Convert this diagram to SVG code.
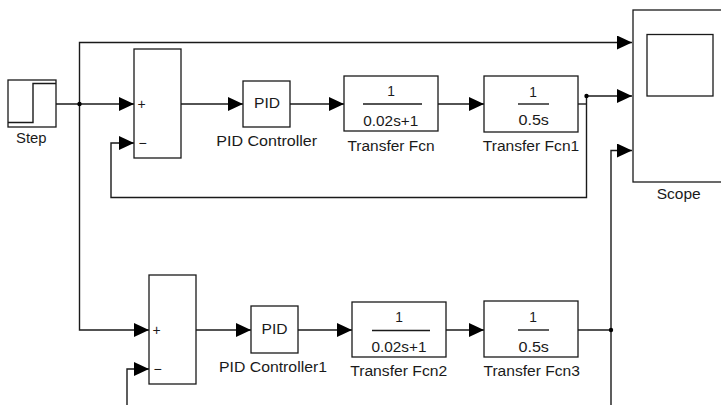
<svg xmlns="http://www.w3.org/2000/svg" width="721" height="405" viewBox="0 0 721 405">
<style>
.box{fill:#fff;stroke:#1a1a1a;stroke-width:1.3}
.ln{fill:none;stroke:#1a1a1a;stroke-width:1.4}
.t{font-family:"Liberation Sans",Arial,sans-serif;font-size:13.8px;fill:#1a1a1a;text-anchor:middle}
.s{font-family:"Liberation Sans",Arial,sans-serif;font-size:14px;fill:#1a1a1a}
</style>
<defs>
<marker id="ah" markerUnits="userSpaceOnUse" markerWidth="15" markerHeight="14" refX="15" refY="7" orient="auto">
<path d="M0,0 L15,7 L0,14 z" fill="#000"/>
</marker>
</defs>
<rect width="721" height="405" fill="#fff"/>
<g id="connectors">
<path class="ln" d="M56,104 H134" marker-end="url(#ah)"/>
<path class="ln" d="M79.5,104 V42.5 H632" marker-end="url(#ah)"/>
<path class="ln" d="M79.5,104 V330 H149" marker-end="url(#ah)"/>
<path class="ln" d="M181,104 H243" marker-end="url(#ah)"/>
<path class="ln" d="M290,104 H344" marker-end="url(#ah)"/>
<path class="ln" d="M438,104 H484" marker-end="url(#ah)"/>
<path class="ln" d="M578,104 H587"/>
<path class="ln" d="M586.5,96 V197.5 H111 V143 H134" marker-end="url(#ah)"/>
<path class="ln" d="M586.5,96 H632" marker-end="url(#ah)"/>
<path class="ln" d="M196,330 H251" marker-end="url(#ah)"/>
<path class="ln" d="M298,330 H352" marker-end="url(#ah)"/>
<path class="ln" d="M446,330 H484" marker-end="url(#ah)"/>
<path class="ln" d="M578,330 H611"/>
<path class="ln" d="M611,405 V150.5 H632" marker-end="url(#ah)"/>
<path class="ln" d="M127,405 V369 H149" marker-end="url(#ah)"/>
<circle cx="79.5" cy="104" r="2.2" fill="#000"/>
<circle cx="586.5" cy="96" r="2.2" fill="#000"/>
<circle cx="611" cy="330" r="2.2" fill="#000"/>
</g>
<g id="step">
<rect class="box" x="8" y="80" width="48" height="47"/>
<polyline class="ln" points="8,122.5 33,122.5 33,83.5 56,83.5"/>
<text class="t" x="31.3" y="143.3" textLength="30.5" lengthAdjust="spacingAndGlyphs">Step</text>
</g>
<g id="sum1">
<rect class="box" x="134" y="49" width="47" height="109"/>
<text class="s" x="137.5" y="109">+</text>
<text class="s" x="138.5" y="148">−</text>
</g>
<g id="pid1">
<rect class="box" x="243" y="81" width="47" height="46"/>
<text class="t" x="267" y="107.5" textLength="26" lengthAdjust="spacingAndGlyphs">PID</text>
<text class="t" x="266.7" y="146" textLength="101" lengthAdjust="spacingAndGlyphs">PID Controller</text>
</g>
<g id="tf">
<rect class="box" x="344" y="76" width="94" height="55"/>
<text class="t" x="391" y="96">1</text>
<line class="ln" x1="363" y1="104" x2="422" y2="104"/>
<text class="t" x="390.8" y="126" textLength="55" lengthAdjust="spacingAndGlyphs">0.02s+1</text>
<text class="t" x="391" y="150.5" textLength="87" lengthAdjust="spacingAndGlyphs">Transfer Fcn</text>
</g>
<g id="tf1">
<rect class="box" x="484" y="76" width="94" height="56"/>
<text class="t" x="533" y="96.5">1</text>
<line class="ln" x1="518" y1="104" x2="549" y2="104"/>
<text class="t" x="533.7" y="125" textLength="30.5" lengthAdjust="spacingAndGlyphs">0.5s</text>
<text class="t" x="531" y="150.5" textLength="96.5" lengthAdjust="spacingAndGlyphs">Transfer Fcn1</text>
</g>
<g id="scope">
<rect class="box" x="633" y="10" width="100" height="172"/>
<rect class="box" x="647" y="34.5" width="66" height="61.5"/>
<text class="t" x="678.7" y="199.3" textLength="44" lengthAdjust="spacingAndGlyphs">Scope</text>
</g>
<g id="sum2">
<rect class="box" x="149" y="275" width="47" height="109"/>
<text class="s" x="152.5" y="335">+</text>
<text class="s" x="153.5" y="374">−</text>
</g>
<g id="pid2">
<rect class="box" x="251" y="306" width="47" height="47"/>
<text class="t" x="274.5" y="334" textLength="26" lengthAdjust="spacingAndGlyphs">PID</text>
<text class="t" x="273" y="371.5" textLength="108" lengthAdjust="spacingAndGlyphs">PID Controller1</text>
</g>
<g id="tf2">
<rect class="box" x="352" y="302" width="94" height="55"/>
<text class="t" x="399" y="322.3">1</text>
<line class="ln" x1="372" y1="330.5" x2="430" y2="330.5"/>
<text class="t" x="399" y="352" textLength="55" lengthAdjust="spacingAndGlyphs">0.02s+1</text>
<text class="t" x="398.7" y="375.5" textLength="97" lengthAdjust="spacingAndGlyphs">Transfer Fcn2</text>
</g>
<g id="tf3">
<rect class="box" x="484" y="301" width="94" height="56"/>
<text class="t" x="533" y="322.3">1</text>
<line class="ln" x1="518" y1="330" x2="549" y2="330"/>
<text class="t" x="533.7" y="352" textLength="30.5" lengthAdjust="spacingAndGlyphs">0.5s</text>
<text class="t" x="531.7" y="375.5" textLength="96.5" lengthAdjust="spacingAndGlyphs">Transfer Fcn3</text>
</g>
</svg>
